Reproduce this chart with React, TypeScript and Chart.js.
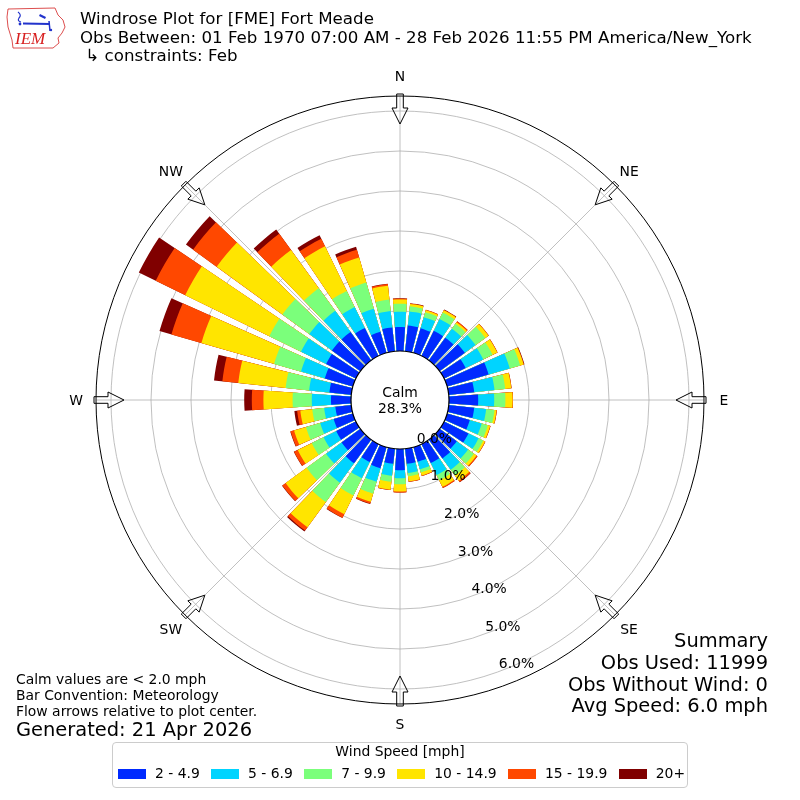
import React, { useEffect, useRef } from 'react';
import { Chart, registerables } from 'chart.js';

Chart.register(...registerables);

// ---------- data ----------
const directions = [0, 10, 20, 30, 40, 50, 60, 70, 80, 90, 100, 110, 120, 130, 140, 150, 160, 170,
  180, 190, 200, 210, 220, 230, 240, 250, 260, 270, 280, 290, 300, 310, 320, 330, 340, 350];
const compassLabels = ['N', 'NE', 'E', 'SE', 'S', 'SW', 'W', 'NW'];
const speedBins = ['2 - 4.9', '5 - 6.9', '7 - 9.9', '10 - 14.9', '15 - 19.9', '20+'];

// percent of observations, per direction (0..350 deg)
const bin2to5 = [0.60, 0.65, 0.64, 0.70, 0.70, 0.78, 0.60, 1.08, 0.64, 0.73, 0.64, 0.59, 0.68, 0.53, 0.58, 0.53, 0.38, 0.38,
  0.53, 0.38, 0.55, 0.50, 0.73, 0.58, 0.55, 0.50, 0.40, 0.50, 0.55, 0.73, 0.83, 0.88, 0.88, 0.78, 0.55, 0.60];
const bin5to7 = [0.38, 0.35, 0.29, 0.33, 0.28, 0.33, 0.49, 0.55, 0.51, 0.40, 0.30, 0.31, 0.28, 0.35, 0.35, 0.33, 0.20, 0.23,
  0.20, 0.30, 0.35, 0.45, 0.60, 0.48, 0.35, 0.35, 0.28, 0.48, 0.51, 0.62, 0.70, 0.70, 0.65, 0.58, 0.60, 0.41];
const bin7to10 = [0.20, 0.13, 0.13, 0.18, 0.15, 0.30, 0.26, 0.27, 0.27, 0.28, 0.21, 0.16, 0.13, 0.18, 0.18, 0.15, 0.08, 0.08,
  0.15, 0.15, 0.31, 0.48, 0.60, 0.60, 0.33, 0.37, 0.30, 0.48, 0.59, 0.70, 0.88, 0.83, 0.70, 0.45, 0.68, 0.29];
const bin10to15 = [0.11, 0.06, 0.05, 0.06, 0.05, 0.10, 0.13, 0.09, 0.15, 0.18, 0.05, 0.06, 0.05, 0.08, 0.16, 0.18, 0.08, 0.13,
  0.18, 0.20, 0.21, 0.52, 0.78, 0.65, 0.39, 0.31, 0.30, 0.73, 1.19, 1.89, 2.34, 2.03, 1.18, 1.24, 0.65, 0.35];
const bin15to20 = [0.02, 0.01, 0.01, 0.01, 0.03, 0.01, 0.01, 0.01, 0.01, 0.01, 0.01, 0.01, 0.01, 0.03, 0.04, 0.03, 0.01, 0.01,
  0.03, 0.01, 0.05, 0.10, 0.10, 0.10, 0.10, 0.09, 0.08, 0.29, 0.40, 0.78, 0.82, 0.73, 0.50, 0.21, 0.20, 0.04];
const bin20plus = [0.01, 0.01, 0.00, 0.01, 0.00, 0.00, 0.00, 0.01, 0.00, 0.00, 0.00, 0.00, 0.00, 0.00, 0.01, 0.00, 0.00, 0.00,
  0.00, 0.00, 0.01, 0.01, 0.03, 0.01, 0.01, 0.01, 0.07, 0.19, 0.21, 0.31, 0.47, 0.22, 0.13, 0.10, 0.08, 0.01];

const radialTicks = [0, 1, 2, 3, 4, 5, 6];
const calmPercent = 28.3;

const titleLines = [
  'Windrose Plot for [FME] Fort Meade',
  'Obs Between: 01 Feb 1970 07:00 AM - 28 Feb 2026 11:55 PM America/New_York',
  ' \u21b3 constraints: Feb',
];
const noteLines = ['Calm values are < 2.0 mph', 'Bar Convention: Meteorology', 'Flow arrows relative to plot center.'];
const generatedText = 'Generated: 21 Apr 2026';
const summaryLines = ['Summary', 'Obs Used: 11999', 'Obs Without Wind: 0', 'Avg Speed: 6.0 mph'];

// ---------- styles ----------
const binColors = ['#002aff', '#00d4ff', '#7bff7b', '#ffe500', '#ff4800', '#800000'];
const FONT = '"DejaVu Sans", "Noto Sans", sans-serif';
const BAR_DEG = 8;
const GAP_DEG = 2;

// build polar layout: N bar is split into two halves so that arcs start at North
function expand(values: number[]): number[] {
  const out = [values[0]];
  for (let k = 1; k < values.length; k++) out.push(0, values[k]);
  out.push(0, values[0]);
  return out;
}
const arcAngles: number[] = [BAR_DEG / 2];
for (let k = 1; k < directions.length; k++) arcAngles.push(GAP_DEG, BAR_DEG);
arcAngles.push(GAP_DEG, BAR_DEG / 2);

const bins = [bin2to5, bin5to7, bin7to10, bin10to15, bin15to20, bin20plus];
const cumulative: number[][] = [];
bins.forEach((b, i) => {
  cumulative.push(b.map((v, j) => (i === 0 ? v : cumulative[i - 1][j] + v)));
});

const toRad = (d: number) => (d * Math.PI) / 180;

const windrosePlugin = {
  id: 'windroseDecor',
  afterDatasetsDraw(chart: any) {
    const s = chart.scales.r;
    const ctx = chart.ctx as CanvasRenderingContext2D;
    const cx = s.xCenter;
    const cy = s.yCenter;
    const R = (v: number) => s.getDistanceFromCenterForValue(v);
    const outer = R(s.max);
    ctx.save();

    // calm circle
    ctx.beginPath();
    ctx.arc(cx, cy, R(0), 0, Math.PI * 2);
    ctx.fillStyle = '#ffffff';
    ctx.fill();
    ctx.lineWidth = 1.2;
    ctx.strokeStyle = '#000000';
    ctx.stroke();

    // outer spine
    ctx.beginPath();
    ctx.arc(cx, cy, outer, 0, Math.PI * 2);
    ctx.lineWidth = 1;
    ctx.strokeStyle = '#000000';
    ctx.stroke();

    // flow arrows + compass labels
    ctx.font = `13.9px ${FONT}`;
    ctx.fillStyle = '#000000';
    ctx.textAlign = 'center';
    ctx.textBaseline = 'alphabetic';
    compassLabels.forEach((lab, i) => {
      const a = toRad(i * 45);
      const ux = Math.sin(a), uy = -Math.cos(a);
      const px = Math.cos(a), py = Math.sin(a);
      const pt = (r: number, t: number) => [cx + r * ux + t * px, cy + r * uy + t * py];
      const r0 = outer + 2, rh = outer - 12, rt = outer - 28;
      const w = 3.3, H = 8;
      const poly = [pt(r0, -w), pt(rh, -w), pt(rh, -H), pt(rt, 0), pt(rh, H), pt(rh, w), pt(r0, w)];
      ctx.beginPath();
      poly.forEach(([x, y], k) => (k === 0 ? ctx.moveTo(x, y) : ctx.lineTo(x, y)));
      ctx.closePath();
      ctx.lineWidth = 1;
      ctx.strokeStyle = '#000000';
      ctx.stroke();
      const [lx, ly] = pt(outer + 20, 0);
      ctx.fillText(lab, lx, ly + 5);
    });

    // radial tick labels along 160 deg
    ctx.textAlign = 'left';
    const la = toRad(160);
    radialTicks.forEach((t) => {
      const r = R(t);
      const x = cx + r * Math.sin(la);
      const y = cy - r * Math.cos(la);
      ctx.fillText(`${t.toFixed(1)}%`, x, y - 3.3);
    });

    // calm text
    ctx.textAlign = 'center';
    ctx.fillText('Calm', cx, cy - 3);
    ctx.fillText(`${calmPercent.toFixed(1)}%`, cx, cy + 13);
    ctx.restore();
  },
};

function WindroseCanvas() {
  const ref = useRef<HTMLCanvasElement | null>(null);
  useEffect(() => {
    if (!ref.current) return;
    const datasets = cumulative.map((vals, b) => ({
      label: speedBins[b],
      data: expand(vals),
      backgroundColor: (c: any) => (c.dataIndex % 2 === 1 ? 'rgba(0,0,0,0)' : binColors[b]),
      angle: (c: any) => arcAngles[c.dataIndex],
      borderWidth: 0,
    }));
    const chart = new Chart(ref.current, {
      type: 'polarArea',
      data: { labels: compassLabels, datasets },
      options: {
        animation: false,
        responsive: false,
        layout: { padding: 96 },
        plugins: { legend: { display: false }, tooltip: { enabled: false } },
        scales: {
          r: {
            min: -1.225,
            max: 6.375,
            startAngle: 0,
            ticks: { display: false, stepSize: 1, includeBounds: false },
            grid: {
              circular: true,
              color: (c: any) => (c.tick && c.tick.value >= 1 ? '#b0b0b0' : 'rgba(0,0,0,0)'),
              lineWidth: 0.8,
            },
            angleLines: { display: true, color: '#b0b0b0', lineWidth: 0.8 },
            pointLabels: { display: false },
          },
        },
      } as any,
      plugins: [windrosePlugin],
    });
    return () => chart.destroy();
  }, []);
  return <canvas ref={ref} width={800} height={800} style={{ position: 'absolute', left: 0, top: 0, width: 800, height: 800 }} />;
}

function Logo() {
  return (
    <svg style={{ position: 'absolute', left: 0, top: 0 }} width={70} height={52} viewBox="0 0 70 52">
      <path d="M8 9 L55 8 L58 15 L63 20 L65 27 L62 33 L58 38 L59 43 L53 48 L13 48 L12 40 L8 27 L7 17 Z"
        fill="#ffffff" stroke="#d83a3a" strokeWidth={0.9} />
      <path d="M18 12 Q22 15 19 18 Q17 21 21 22" fill="none" stroke="#2233cc" strokeWidth={1.2} />
      <circle cx={20} cy={24} r={1.4} fill="#2233cc" />
      <path d="M23 23.5 L50 24" stroke="#2233cc" strokeWidth={2} />
      <path d="M40 14 L46 17 L45 19 L39 16 Z" fill="#2233cc" />
      <path d="M49 21 L50 31" stroke="#2233cc" strokeWidth={1.5} />
      <circle cx={51} cy={30} r={1.2} fill="#2233cc" />
      <text x={15} y={44} fill="#d82020" fontFamily='"Liberation Serif", "DejaVu Serif", serif' fontStyle="italic" fontSize={17}>IEM</text>
    </svg>
  );
}

const textStyle = (size: number): React.CSSProperties => ({
  position: 'absolute',
  fontFamily: FONT,
  fontSize: size,
  lineHeight: 1,
  whiteSpace: 'pre',
  color: '#000',
});

export default function App() {
  const titleTops = [11.4, 29.7, 47.9];
  const noteTops = [673.2, 689.2, 705.2];
  const summaryTops = [630.6, 652.6, 674.6, 695.6];
  return (
    <div style={{ position: 'absolute', left: 0, top: 0, width: 800, height: 800, background: '#fff', overflow: 'hidden' }}>
      <WindroseCanvas />
      <Logo />
      {titleLines.map((t, i) => (
        <div key={t} style={{ ...textStyle(16.67), left: 80, top: titleTops[i] }}>{t}</div>
      ))}
      {noteLines.map((t, i) => (
        <div key={t} style={{ ...textStyle(13.9), left: 16, top: noteTops[i] }}>{t}</div>
      ))}
      <div style={{ ...textStyle(19.44), left: 16, top: 719.5 }}>{generatedText}</div>
      {summaryLines.map((t, i) => (
        <div key={t} style={{ ...textStyle(19.44), right: 32, top: summaryTops[i], textAlign: 'right' }}>{t}</div>
      ))}
      <div style={{ position: 'absolute', left: 112, top: 742, width: 576, height: 46, border: '1px solid #cccccc', borderRadius: 4, boxSizing: 'border-box', background: '#fff' }}>
        <div style={{ ...textStyle(13.9), left: 0, right: 0, top: 2.2, textAlign: 'center' }}>Wind Speed [mph]</div>
        <div style={{ position: 'absolute', left: 5, top: 24.2, display: 'flex', alignItems: 'flex-start' }}>
          {speedBins.map((lab, i) => (
            <div key={lab} style={{ display: 'flex', alignItems: 'flex-start', marginRight: i < speedBins.length - 1 ? 11.3 : 0 }}>
              <div style={{ width: 28, height: 10, marginTop: 1.8, marginRight: 9, background: binColors[i] }} />
              <div style={{ fontFamily: FONT, fontSize: 13.9, lineHeight: 1, whiteSpace: 'pre' }}>{lab}</div>
            </div>
          ))}
        </div>
      </div>
    </div>
  );
}
